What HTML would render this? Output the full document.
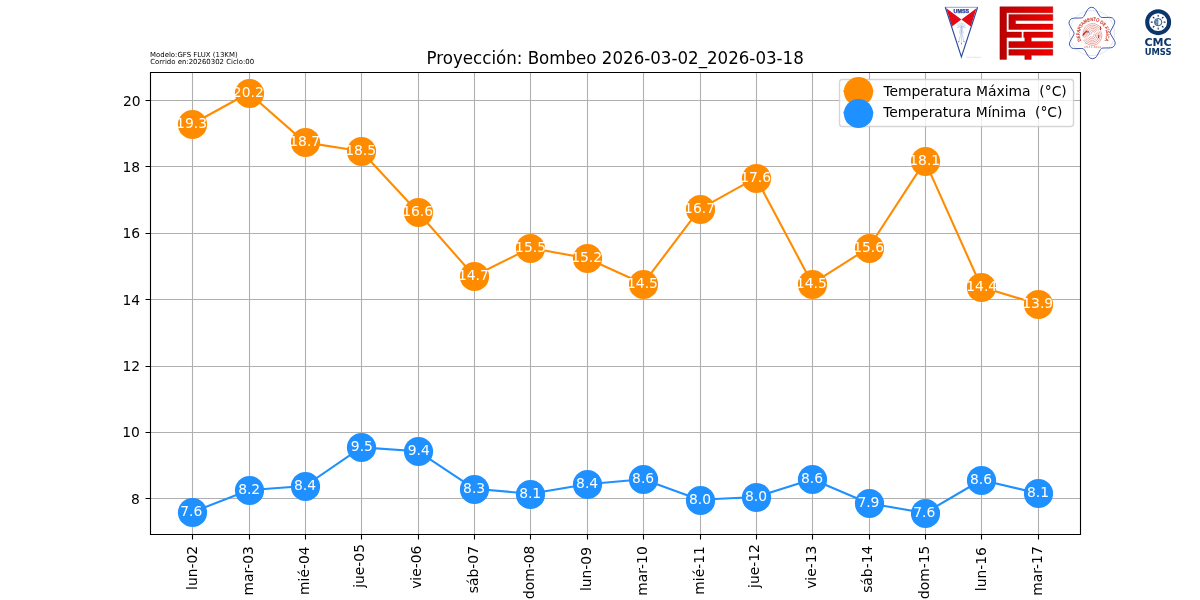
<!DOCTYPE html>
<html lang="es"><head><meta charset="utf-8"><title>Proyección: Bombeo</title>
<style>html,body{margin:0;padding:0;background:#fff;}body{width:1200px;height:600px;overflow:hidden;}svg{display:block;}text{font-family:'DejaVu Sans','Liberation Sans',sans-serif;}</style></head><body>
<svg width="1200" height="600" viewBox="0 0 1200 600">
<rect x="0" y="0" width="1200" height="600" fill="#ffffff"/>
<path d="M192.5 72V534M249.5 72V534M305.5 72V534M361.5 72V534M418.5 72V534M474.5 72V534M530.5 72V534M587.5 72V534M643.5 72V534M700.5 72V534M756.5 72V534M812.5 72V534M869.5 72V534M925.5 72V534M981.5 72V534M1038.5 72V534M150 498.5H1080M150 432.5H1080M150 366.5H1080M150 299.5H1080M150 233.5H1080M150 166.5H1080M150 100.5H1080" stroke="#b0b0b0" stroke-width="1.111" fill="none"/>
<path d="M192.27 124.00L248.64 93.00L305.00 142.40L361.36 151.20L417.73 212.00L474.09 276.00L530.45 248.00L586.82 258.20L643.18 283.70L699.55 209.20L755.91 177.90L812.27 283.70L868.64 247.80L925.00 161.10L981.36 287.00L1037.73 304.00" stroke="#ff8c00" stroke-width="2.083" fill="none" stroke-linejoin="round" stroke-linecap="square"/>
<circle cx="192.5" cy="124.5" r="14.61" fill="#ff8c00"/>
<circle cx="249.5" cy="93.5" r="14.61" fill="#ff8c00"/>
<circle cx="305.5" cy="142.5" r="14.61" fill="#ff8c00"/>
<circle cx="361.5" cy="151.5" r="14.61" fill="#ff8c00"/>
<circle cx="418.5" cy="212.5" r="14.61" fill="#ff8c00"/>
<circle cx="474.5" cy="276.5" r="14.61" fill="#ff8c00"/>
<circle cx="530.5" cy="248.5" r="14.61" fill="#ff8c00"/>
<circle cx="587.5" cy="258.5" r="14.61" fill="#ff8c00"/>
<circle cx="643.5" cy="284.5" r="14.61" fill="#ff8c00"/>
<circle cx="700.5" cy="209.5" r="14.61" fill="#ff8c00"/>
<circle cx="756.5" cy="178.5" r="14.61" fill="#ff8c00"/>
<circle cx="812.5" cy="284.5" r="14.61" fill="#ff8c00"/>
<circle cx="869.5" cy="248.5" r="14.61" fill="#ff8c00"/>
<circle cx="925.5" cy="161.5" r="14.61" fill="#ff8c00"/>
<circle cx="981.5" cy="287.5" r="14.61" fill="#ff8c00"/>
<circle cx="1038.5" cy="304.5" r="14.61" fill="#ff8c00"/>
<path d="M192.27 512.20L248.64 490.20L305.00 486.00L361.36 447.40L417.73 451.20L474.09 488.70L530.45 493.70L586.82 484.20L643.18 479.20L699.55 499.70L755.91 497.00L812.27 479.20L868.64 503.20L925.00 513.00L981.36 480.00L1037.73 493.20" stroke="#1e90ff" stroke-width="2.083" fill="none" stroke-linejoin="round" stroke-linecap="square"/>
<circle cx="192.5" cy="512.5" r="14.61" fill="#1e90ff"/>
<circle cx="249.5" cy="490.5" r="14.61" fill="#1e90ff"/>
<circle cx="305.5" cy="486.5" r="14.61" fill="#1e90ff"/>
<circle cx="361.5" cy="447.5" r="14.61" fill="#1e90ff"/>
<circle cx="418.5" cy="451.5" r="14.61" fill="#1e90ff"/>
<circle cx="474.5" cy="489.5" r="14.61" fill="#1e90ff"/>
<circle cx="530.5" cy="494.5" r="14.61" fill="#1e90ff"/>
<circle cx="587.5" cy="484.5" r="14.61" fill="#1e90ff"/>
<circle cx="643.5" cy="479.5" r="14.61" fill="#1e90ff"/>
<circle cx="700.5" cy="500.5" r="14.61" fill="#1e90ff"/>
<circle cx="756.5" cy="497.5" r="14.61" fill="#1e90ff"/>
<circle cx="812.5" cy="479.5" r="14.61" fill="#1e90ff"/>
<circle cx="869.5" cy="503.5" r="14.61" fill="#1e90ff"/>
<circle cx="925.5" cy="513.5" r="14.61" fill="#1e90ff"/>
<circle cx="981.5" cy="480.5" r="14.61" fill="#1e90ff"/>
<circle cx="1038.5" cy="493.5" r="14.61" fill="#1e90ff"/>
<path d="M192.5 534.5V539.5M249.5 534.5V539.5M305.5 534.5V539.5M361.5 534.5V539.5M418.5 534.5V539.5M474.5 534.5V539.5M530.5 534.5V539.5M587.5 534.5V539.5M643.5 534.5V539.5M700.5 534.5V539.5M756.5 534.5V539.5M812.5 534.5V539.5M869.5 534.5V539.5M925.5 534.5V539.5M981.5 534.5V539.5M1038.5 534.5V539.5M150.5 498.5H145.5M150.5 432.5H145.5M150.5 366.5H145.5M150.5 299.5H145.5M150.5 233.5H145.5M150.5 166.5H145.5M150.5 100.5H145.5" stroke="#000" stroke-width="1.111" fill="none"/>
<path d="M150.5 72V535M1080.5 72V535M150 72.5H1081M150 534.5H1081" stroke="#000" stroke-width="1.111" fill="none"/>
<text x="176.09" y="128.00" font-size="13.889" fill="#ffffff">19.3</text>
<text x="180.27" y="516.00" font-size="13.889" fill="#ffffff">7.6</text>
<text x="232.82" y="97.00" font-size="13.889" fill="#ffffff">20.2</text>
<text x="238.14" y="494.00" font-size="13.889" fill="#ffffff">8.2</text>
<text x="289.31" y="146.00" font-size="13.889" fill="#ffffff">18.7</text>
<text x="294.00" y="490.00" font-size="13.889" fill="#ffffff">8.4</text>
<text x="345.18" y="155.00" font-size="13.889" fill="#ffffff">18.5</text>
<text x="350.86" y="451.00" font-size="13.889" fill="#ffffff">9.5</text>
<text x="402.23" y="216.00" font-size="13.889" fill="#ffffff">16.6</text>
<text x="407.73" y="455.00" font-size="13.889" fill="#ffffff">9.4</text>
<text x="457.97" y="280.00" font-size="13.889" fill="#ffffff">14.7</text>
<text x="463.09" y="493.00" font-size="13.889" fill="#ffffff">8.3</text>
<text x="515.08" y="252.00" font-size="13.889" fill="#ffffff">15.5</text>
<text x="519.14" y="498.00" font-size="13.889" fill="#ffffff">8.1</text>
<text x="571.19" y="262.00" font-size="13.889" fill="#ffffff">15.2</text>
<text x="576.07" y="488.00" font-size="13.889" fill="#ffffff">8.4</text>
<text x="627.06" y="288.00" font-size="13.889" fill="#ffffff">14.5</text>
<text x="632.12" y="483.00" font-size="13.889" fill="#ffffff">8.6</text>
<text x="684.11" y="213.00" font-size="13.889" fill="#ffffff">16.7</text>
<text x="689.05" y="504.00" font-size="13.889" fill="#ffffff">8.0</text>
<text x="740.22" y="182.00" font-size="13.889" fill="#ffffff">17.6</text>
<text x="744.91" y="501.00" font-size="13.889" fill="#ffffff">8.0</text>
<text x="795.90" y="288.00" font-size="13.889" fill="#ffffff">14.5</text>
<text x="800.96" y="483.00" font-size="13.889" fill="#ffffff">8.6</text>
<text x="853.20" y="252.00" font-size="13.889" fill="#ffffff">15.6</text>
<text x="857.39" y="507.00" font-size="13.889" fill="#ffffff">7.9</text>
<text x="909.25" y="165.00" font-size="13.889" fill="#ffffff">18.1</text>
<text x="913.25" y="517.00" font-size="13.889" fill="#ffffff">7.6</text>
<text x="966.24" y="291.00" font-size="13.889" fill="#ffffff">14.4</text>
<text x="970.05" y="484.00" font-size="13.889" fill="#ffffff">8.6</text>
<text x="1022.29" y="308.00" font-size="13.889" fill="#ffffff">13.9</text>
<text x="1026.91" y="497.00" font-size="13.889" fill="#ffffff">8.1</text>
<text x="150.00" y="57.00" font-size="6.944" fill="#000000">Modelo:GFS FLUX (13KM)</text>
<text x="150.25" y="64.00" font-size="6.944" fill="#000000">Corrido en:20260302 Ciclo:00</text>
<text x="196.52" y="589.97" font-size="13.889" fill="#000000" transform="rotate(-90 196.52 589.97)">lun-02</text>
<text x="252.64" y="595.60" font-size="13.889" fill="#000000" transform="rotate(-90 252.64 595.60)">mar-03</text>
<text x="308.75" y="594.97" font-size="13.889" fill="#000000" transform="rotate(-90 308.75 594.97)">mié-04</text>
<text x="363.61" y="587.85" font-size="13.889" fill="#000000" transform="rotate(-90 363.61 587.85)">jue-05</text>
<text x="420.73" y="588.85" font-size="13.889" fill="#000000" transform="rotate(-90 420.73 588.85)">vie-06</text>
<text x="477.59" y="593.22" font-size="13.889" fill="#000000" transform="rotate(-90 477.59 593.22)">sáb-07</text>
<text x="533.70" y="599.10" font-size="13.889" fill="#000000" transform="rotate(-90 533.70 599.10)">dom-08</text>
<text x="590.57" y="591.10" font-size="13.889" fill="#000000" transform="rotate(-90 590.57 591.10)">lun-09</text>
<text x="646.68" y="595.72" font-size="13.889" fill="#000000" transform="rotate(-90 646.68 595.72)">mar-10</text>
<text x="703.55" y="594.72" font-size="13.889" fill="#000000" transform="rotate(-90 703.55 594.72)">mié-11</text>
<text x="758.66" y="587.97" font-size="13.889" fill="#000000" transform="rotate(-90 758.66 587.97)">jue-12</text>
<text x="815.52" y="588.85" font-size="13.889" fill="#000000" transform="rotate(-90 815.52 588.85)">vie-13</text>
<text x="871.64" y="592.85" font-size="13.889" fill="#000000" transform="rotate(-90 871.64 592.85)">sáb-14</text>
<text x="928.75" y="599.10" font-size="13.889" fill="#000000" transform="rotate(-90 928.75 599.10)">dom-15</text>
<text x="985.61" y="591.22" font-size="13.889" fill="#000000" transform="rotate(-90 985.61 591.22)">lun-16</text>
<text x="1041.73" y="595.72" font-size="13.889" fill="#000000" transform="rotate(-90 1041.73 595.72)">mar-17</text>
<text x="130.90" y="504.00" font-size="13.889" fill="#000000">8</text>
<text x="122.15" y="437.00" font-size="13.889" fill="#000000">10</text>
<text x="122.40" y="371.00" font-size="13.889" fill="#000000">12</text>
<text x="122.40" y="305.00" font-size="13.889" fill="#000000">14</text>
<text x="122.53" y="238.00" font-size="13.889" fill="#000000">16</text>
<text x="122.53" y="172.00" font-size="13.889" fill="#000000">18</text>
<text x="123.03" y="106.00" font-size="13.889" fill="#000000">20</text>
<text transform="translate(426.56 64.00) scale(1 1.070)" font-size="16.667" fill="#000000">Proyección: Bombeo 2026-03-02_2026-03-18</text>
<rect x="839.50" y="79.50" width="234.00" height="47.00" rx="2.78" fill="#fff" fill-opacity="0.8" stroke="#cccccc" stroke-opacity="0.8" stroke-width="1.389"/>
<path d="M844.49 91.14H872.26" stroke="#ff8c00" stroke-width="2.083" stroke-linecap="square"/>
<circle cx="858.5" cy="91.5" r="14.61" fill="#ff8c00"/>
<path d="M844.49 112.58H872.26" stroke="#1e90ff" stroke-width="2.083" stroke-linecap="square"/>
<circle cx="858.5" cy="113.5" r="14.61" fill="#1e90ff"/>
<text x="883.38" y="96.00" font-size="13.889" fill="#000000">Temperatura Máxima&#160; (°C)</text>
<text x="883.13" y="117.00" font-size="13.889" fill="#000000">Temperatura Mínima&#160; (°C)</text>
<g id="logo-umss">
<path d="M945.2 7.2H977.7L961.4 57.4Z" fill="#ffffff"/>
<path d="M944.9 7.4H978" stroke="#a9b6dc" stroke-width="1.1" fill="none"/>
<path d="M946.3 8.3L961.4 19.6L951.9 26.6Z" fill="#e20a17"/>
<path d="M976.5 8.3L961.4 19.6L970.8 26.4Z" fill="#e20a17"/>
<path d="M945.3 7.3L961.4 57L977.6 7.3" fill="none" stroke="#2c4ba2" stroke-width="1.15" stroke-linejoin="miter" stroke-miterlimit="10"/>
<text x="961.4" y="13.4" font-size="5" font-weight="bold" text-anchor="middle" textLength="15.6" lengthAdjust="spacingAndGlyphs" fill="#1f3c98" stroke="#1f3c98" stroke-width="0.25" style="font-family:'Liberation Sans','DejaVu Sans',sans-serif">UMSS</text>
<g stroke="#7089cc" stroke-width="0.4" fill="none" stroke-linecap="round" opacity="0.85">
<circle cx="961.4" cy="26.8" r="1.5"/>
<path d="M958.84 27.25L957.46 27.49M958.89 26.13L957.54 25.76M959.41 25.13L958.34 24.23M960.30 24.44L959.71 23.17M961.40 24.20L961.40 22.80M962.50 24.44L963.09 23.17M963.39 25.13L964.46 24.23M963.91 26.13L965.26 25.76M963.96 27.25L965.34 27.49" stroke-dasharray="0.6 0.5"/>
<path d="M961.4 28.4V44M961.4 30L959.1 41.2M961.4 30L963.7 41.2M960.4 28.6L959.6 33M962.4 28.6L963.2 33"/>
</g>
<g fill="#4a66b8"><circle cx="958.7" cy="41.6" r="0.55"/><circle cx="964.1" cy="41.6" r="0.55"/><circle cx="961.4" cy="43.8" r="0.55"/><circle cx="961.4" cy="26.8" r="0.6"/></g>
<text x="966.2" y="58.2" font-size="2.1" fill="#c3c8d6" textLength="14.5" lengthAdjust="spacingAndGlyphs">www.umss.edu.bo</text>
</g>
<g id="logo-fcyt"><linearGradient id="gr" gradientUnits="userSpaceOnUse" x1="1000" y1="0" x2="1053" y2="0"><stop offset="0" stop-color="#ba0000"/><stop offset="0.5" stop-color="#d80000"/><stop offset="1" stop-color="#f20000"/></linearGradient>
<path d="M999.90 6.70L1052.80 6.70L1052.80 12.80L1006.60 12.80L1006.60 32.00L1021.50 32.00L1021.50 37.40L1006.60 37.40L1006.60 59.40L999.90 59.40ZM1008.80 14.60L1052.80 14.60L1052.80 20.60L1015.60 20.60L1015.60 24.05L1052.80 24.05L1052.80 29.50L1008.80 29.50ZM1023.70 32.00L1052.80 32.00L1052.80 37.40L1031.30 37.40L1031.30 41.40L1052.80 41.40L1052.80 47.70L1008.80 47.70L1008.80 41.40L1024.80 41.40L1024.80 37.40L1023.70 37.40ZM1008.80 49.60L1052.80 49.60L1052.80 55.30L1031.30 55.30L1031.30 59.40L1024.80 59.40L1024.80 55.30L1008.80 55.30Z" fill="url(#gr)" stroke="#800000" stroke-opacity="0.6" stroke-width="0.6" stroke-linejoin="miter"/>
</g>
<g id="logo-fisica">
<circle cx="1092.1" cy="33.0" r="22.6" fill="none" stroke="#c3cae6" stroke-width="0.5"/>
<path d="M1087.94 9.70A4.80 4.80 0 0 1 1096.26 9.70L1100.04 16.25A3.00 3.00 0 0 0 1102.64 17.75L1110.20 17.75A4.80 4.80 0 0 1 1114.36 24.95L1110.58 31.50A3.00 3.00 0 0 0 1110.58 34.50L1114.36 41.05A4.80 4.80 0 0 1 1110.20 48.25L1102.64 48.25A3.00 3.00 0 0 0 1100.04 49.75L1096.26 56.30A4.80 4.80 0 0 1 1087.94 56.30L1084.16 49.75A3.00 3.00 0 0 0 1081.56 48.25L1074.00 48.25A4.80 4.80 0 0 1 1069.84 41.05L1073.62 34.50A3.00 3.00 0 0 0 1073.62 31.50L1069.84 24.95A4.80 4.80 0 0 1 1074.00 17.75L1081.56 17.75A3.00 3.00 0 0 0 1084.16 16.25Z" fill="none" stroke="#3d54aa" stroke-width="0.95" stroke-linejoin="round" transform="rotate(-1.2 1092.1 33.0)"/>
<path id="ring" d="M1081.37 40.65A13.30 13.30 0 1 1 1104.95 40.03" fill="none"/>
<text font-size="4.6" fill="#cf3529" stroke="#cf3529" stroke-width="0.18" style="font-family:'Liberation Sans','DejaVu Sans',sans-serif"><textPath href="#ring" textLength="54.3" lengthAdjust="spacingAndGlyphs">DEPARTAMENTO DE FÍSICA</textPath></text>
<g fill="none" stroke="#cc382c" stroke-width="0.5" opacity="0.72" transform="rotate(-28 1092.4 34.3)">
<path d="M1091.20 34.00A2.00 2.00 0 0 1 1095.20 34.00"/>
<path d="M1089.60 34.90A2.00 2.00 0 0 0 1093.60 34.90"/>
<path d="M1089.65 34.00A3.55 3.65 0 0 1 1096.75 34.00"/>
<path d="M1088.05 34.90A3.55 3.65 0 0 0 1095.15 34.90"/>
<path d="M1088.10 34.00A5.10 5.30 0 0 1 1098.30 34.00"/>
<path d="M1086.50 34.90A5.10 5.30 0 0 0 1096.70 34.90"/>
<path d="M1086.55 34.00A6.65 6.95 0 0 1 1099.85 34.00"/>
<path d="M1084.95 34.90A6.65 6.95 0 0 0 1098.25 34.90"/>
<path d="M1085.00 34.00A8.20 8.60 0 0 1 1101.40 34.00"/>
<path d="M1083.40 34.90A8.20 8.60 0 0 0 1099.80 34.90"/>
<path d="M1083.45 34.00A9.75 10.25 0 0 1 1102.95 34.00"/>
<path d="M1081.85 34.90A9.75 10.25 0 0 0 1101.35 34.90"/>
</g>
<path d="M1082.2 36.2L1083 33.8L1086.6 30.2L1087.4 31L1084.2 34.8Z" fill="#c2261c"/>
<path d="M1100.4 26.8Q1101 28.2 1100.6 29.6" stroke="#b8221a" stroke-width="1" fill="none" stroke-linecap="round"/>
<path d="M1098.9 35.3Q1099.1 36.6 1098.4 37.8" stroke="#b8221a" stroke-width="1" fill="none" stroke-linecap="round"/>
<rect x="1087.2" y="31.1" width="1.6" height="1.6" fill="#4a64b8"/>
<circle cx="1086.1" cy="43.5" r="0.5" fill="#6d84c8"/>
<text x="1084" y="48.3" font-size="3" font-style="italic" fill="#d6574b" textLength="17" lengthAdjust="spacingAndGlyphs">U.M.S.S. Bolivia</text>
</g>
<g id="logo-cmc">
<circle cx="1158.15" cy="22.15" r="10.95" fill="none" stroke="#0c3569" stroke-width="4.05"/>
<circle cx="1158.15" cy="22.15" r="3.65" fill="#fff" stroke="#0c3569" stroke-width="0.85"/>
<path d="M1157.90 19.70A2.45 2.45 0 0 0 1157.90 24.60Z" fill="#0c3569" fill-opacity="0.4" stroke="#0c3569" stroke-width="0.6" stroke-linejoin="round"/>
<path d="M1164.05 22.15L1165.05 22.15M1162.32 26.32L1163.03 27.03M1158.15 28.05L1158.15 29.05M1153.98 26.32L1153.27 27.03M1152.25 22.15L1151.25 22.15M1153.98 17.98L1153.27 17.27M1158.15 16.25L1158.15 15.25M1162.32 17.98L1163.03 17.27" fill="none" stroke="#0c3569" stroke-width="1.15" stroke-linecap="round"/>
<text x="1144.5" y="45.7" font-size="10.3" font-weight="bold" fill="#0c3569" textLength="27.2" lengthAdjust="spacingAndGlyphs">CMC</text>
<text x="1144.7" y="54.8" font-size="8.2" font-weight="bold" fill="#0c3569" textLength="26.9" lengthAdjust="spacingAndGlyphs">UMSS</text>
</g>
</svg></body></html>
